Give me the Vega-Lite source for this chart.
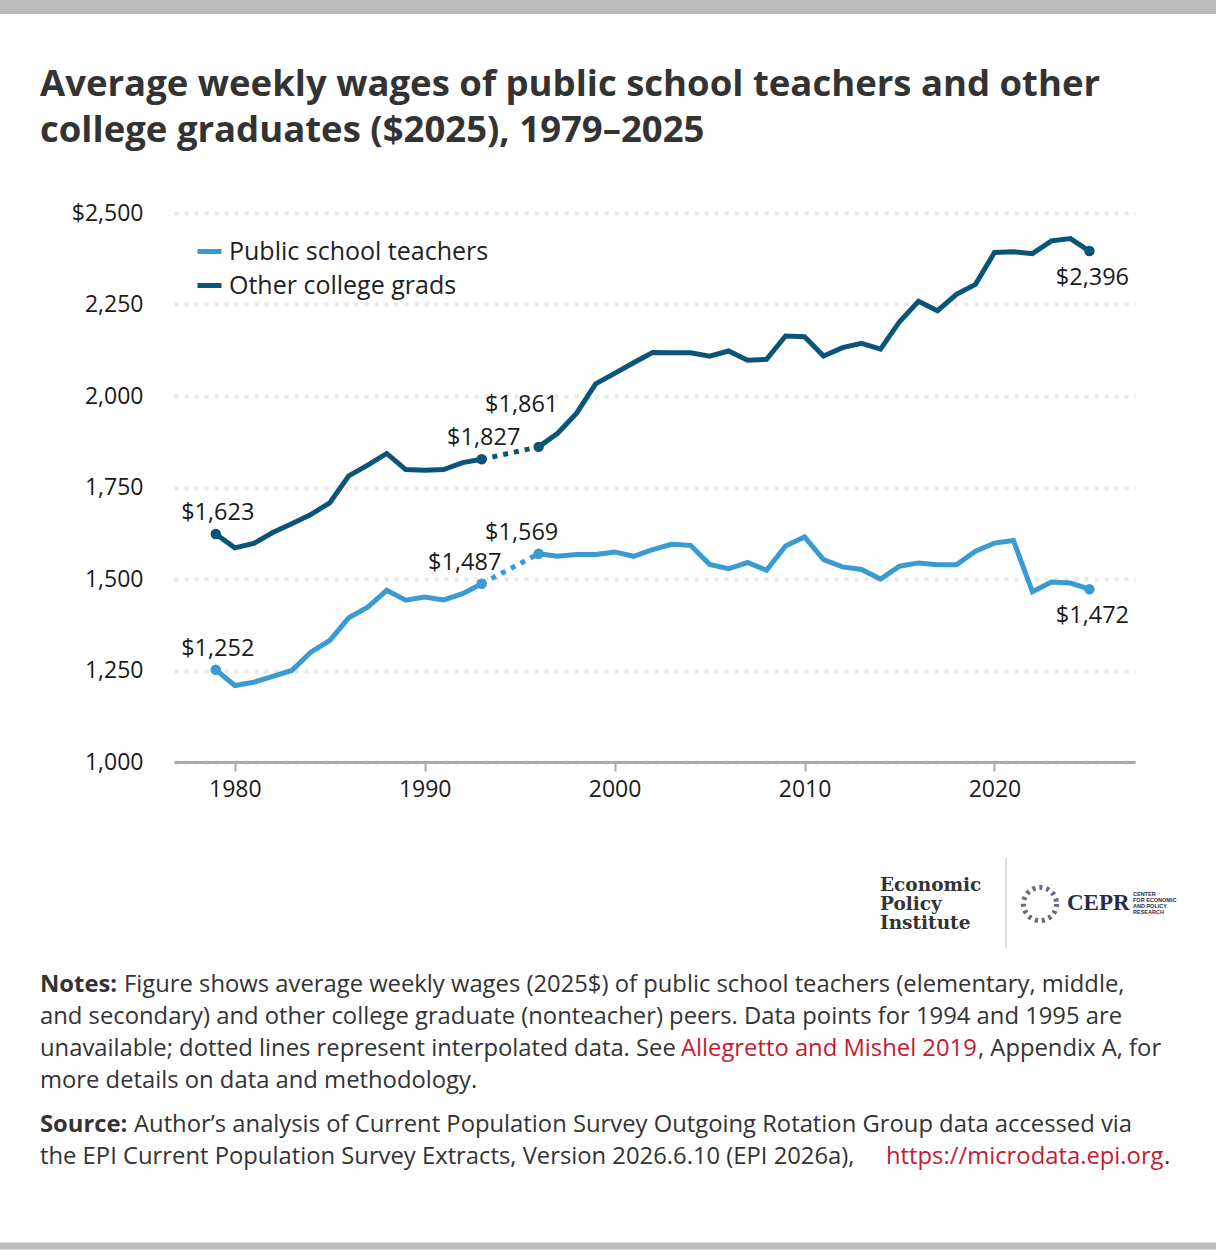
{
  "$schema": "https://vega.github.io/schema/vega-lite/v6.json",
  "width": 961,
  "height": 549,
  "autosize": {"type": "none"},
  "padding": {"left": 174, "top": 213, "right": 81, "bottom": 488},
  "background": "white",
  "config": {"view": {"stroke": null}, "font": "Open Sans"},
  "datasets": {
    "wages": [
      {"series": "Public school teachers", "year": 1979, "wage": 1252},
      {"series": "Public school teachers", "year": 1980, "wage": 1209},
      {"series": "Public school teachers", "year": 1981, "wage": 1218},
      {"series": "Public school teachers", "year": 1982, "wage": 1234},
      {"series": "Public school teachers", "year": 1983, "wage": 1250},
      {"series": "Public school teachers", "year": 1984, "wage": 1300},
      {"series": "Public school teachers", "year": 1985, "wage": 1332},
      {"series": "Public school teachers", "year": 1986, "wage": 1394},
      {"series": "Public school teachers", "year": 1987, "wage": 1423},
      {"series": "Public school teachers", "year": 1988, "wage": 1469},
      {"series": "Public school teachers", "year": 1989, "wage": 1442},
      {"series": "Public school teachers", "year": 1990, "wage": 1451},
      {"series": "Public school teachers", "year": 1991, "wage": 1443},
      {"series": "Public school teachers", "year": 1992, "wage": 1460},
      {"series": "Public school teachers", "year": 1993, "wage": 1487},
      {"series": "Public school teachers", "year": 1996, "wage": 1569},
      {"series": "Public school teachers", "year": 1997, "wage": 1562},
      {"series": "Public school teachers", "year": 1998, "wage": 1567},
      {"series": "Public school teachers", "year": 1999, "wage": 1567},
      {"series": "Public school teachers", "year": 2000, "wage": 1574},
      {"series": "Public school teachers", "year": 2001, "wage": 1562},
      {"series": "Public school teachers", "year": 2002, "wage": 1580},
      {"series": "Public school teachers", "year": 2003, "wage": 1595},
      {"series": "Public school teachers", "year": 2004, "wage": 1592},
      {"series": "Public school teachers", "year": 2005, "wage": 1540},
      {"series": "Public school teachers", "year": 2006, "wage": 1528},
      {"series": "Public school teachers", "year": 2007, "wage": 1545},
      {"series": "Public school teachers", "year": 2008, "wage": 1524},
      {"series": "Public school teachers", "year": 2009, "wage": 1590},
      {"series": "Public school teachers", "year": 2010, "wage": 1615},
      {"series": "Public school teachers", "year": 2011, "wage": 1553},
      {"series": "Public school teachers", "year": 2012, "wage": 1533},
      {"series": "Public school teachers", "year": 2013, "wage": 1526},
      {"series": "Public school teachers", "year": 2014, "wage": 1500},
      {"series": "Public school teachers", "year": 2015, "wage": 1535},
      {"series": "Public school teachers", "year": 2016, "wage": 1544},
      {"series": "Public school teachers", "year": 2017, "wage": 1539},
      {"series": "Public school teachers", "year": 2018, "wage": 1539},
      {"series": "Public school teachers", "year": 2019, "wage": 1576},
      {"series": "Public school teachers", "year": 2020, "wage": 1598},
      {"series": "Public school teachers", "year": 2021, "wage": 1605},
      {"series": "Public school teachers", "year": 2022, "wage": 1465},
      {"series": "Public school teachers", "year": 2023, "wage": 1492},
      {"series": "Public school teachers", "year": 2024, "wage": 1489},
      {"series": "Public school teachers", "year": 2025, "wage": 1472},
      {"series": "Other college grads", "year": 1979, "wage": 1623},
      {"series": "Other college grads", "year": 1980, "wage": 1585},
      {"series": "Other college grads", "year": 1981, "wage": 1597},
      {"series": "Other college grads", "year": 1982, "wage": 1627},
      {"series": "Other college grads", "year": 1983, "wage": 1651},
      {"series": "Other college grads", "year": 1984, "wage": 1676},
      {"series": "Other college grads", "year": 1985, "wage": 1708},
      {"series": "Other college grads", "year": 1986, "wage": 1782},
      {"series": "Other college grads", "year": 1987, "wage": 1811},
      {"series": "Other college grads", "year": 1988, "wage": 1843},
      {"series": "Other college grads", "year": 1989, "wage": 1799},
      {"series": "Other college grads", "year": 1990, "wage": 1797},
      {"series": "Other college grads", "year": 1991, "wage": 1799},
      {"series": "Other college grads", "year": 1992, "wage": 1818},
      {"series": "Other college grads", "year": 1993, "wage": 1827},
      {"series": "Other college grads", "year": 1996, "wage": 1861},
      {"series": "Other college grads", "year": 1997, "wage": 1898},
      {"series": "Other college grads", "year": 1998, "wage": 1953},
      {"series": "Other college grads", "year": 1999, "wage": 2033},
      {"series": "Other college grads", "year": 2000, "wage": 2062},
      {"series": "Other college grads", "year": 2001, "wage": 2091},
      {"series": "Other college grads", "year": 2002, "wage": 2119},
      {"series": "Other college grads", "year": 2003, "wage": 2118},
      {"series": "Other college grads", "year": 2004, "wage": 2118},
      {"series": "Other college grads", "year": 2005, "wage": 2109},
      {"series": "Other college grads", "year": 2006, "wage": 2123},
      {"series": "Other college grads", "year": 2007, "wage": 2098},
      {"series": "Other college grads", "year": 2008, "wage": 2100},
      {"series": "Other college grads", "year": 2009, "wage": 2164},
      {"series": "Other college grads", "year": 2010, "wage": 2162},
      {"series": "Other college grads", "year": 2011, "wage": 2109},
      {"series": "Other college grads", "year": 2012, "wage": 2132},
      {"series": "Other college grads", "year": 2013, "wage": 2144},
      {"series": "Other college grads", "year": 2014, "wage": 2128},
      {"series": "Other college grads", "year": 2015, "wage": 2203},
      {"series": "Other college grads", "year": 2016, "wage": 2259},
      {"series": "Other college grads", "year": 2017, "wage": 2233},
      {"series": "Other college grads", "year": 2018, "wage": 2278},
      {"series": "Other college grads", "year": 2019, "wage": 2305},
      {"series": "Other college grads", "year": 2020, "wage": 2392},
      {"series": "Other college grads", "year": 2021, "wage": 2394},
      {"series": "Other college grads", "year": 2022, "wage": 2389},
      {"series": "Other college grads", "year": 2023, "wage": 2424},
      {"series": "Other college grads", "year": 2024, "wage": 2430},
      {"series": "Other college grads", "year": 2025, "wage": 2396}
    ],
    "notes": [
      {"part": "title", "line": 0, "text": "Average weekly wages of public school teachers and other\ncollege graduates ($2025), 1979–2025"},
      {"part": "bold", "line": 1, "text": "Notes:"},
      {"part": "bold", "line": 5, "text": "Source:"},
      {"part": "after_notes", "line": 1, "text": "Figure shows average weekly wages (2025$) of public school teachers (elementary, middle,"},
      {"part": "plain", "line": 2, "text": "and secondary) and other college graduate (nonteacher) peers. Data points for 1994 and 1995 are"},
      {"part": "plain", "line": 3, "text": "unavailable; dotted lines represent interpolated data. See"},
      {"part": "plain", "line": 4, "text": "more details on data and methodology."},
      {"part": "after_source", "line": 5, "text": "Author’s analysis of Current Population Survey Outgoing Rotation Group data accessed via"},
      {"part": "plain", "line": 6, "text": "the EPI Current Population Survey Extracts, Version 2026.6.10 (EPI 2026a),"},
      {"part": "link3", "line": 3, "text": "Allegretto and Mishel 2019"},
      {"part": "tail3", "line": 3, "text": ", Appendix A, for"},
      {"part": "link6", "line": 6, "text": "https://microdata.epi.org"},
      {"part": "tail6", "line": 6, "text": "."},
      {"part": "epi", "line": 0, "text": "Economic\nPolicy\nInstitute"},
      {"part": "cepr", "line": 0, "text": "CEPR"},
      {"part": "cepr_small", "line": 0, "text": "CENTER\nFOR ECONOMIC\nAND POLICY\nRESEARCH"},
      {"part": "frame", "line": 0, "text": ""}
    ]
  },
  "layer": [
    {
      "data": {"name": "wages"},
      "encoding": {
        "x": {
          "field": "year",
          "type": "quantitative",
          "scale": {"domain": [1976.8, 2027.4], "nice": false, "zero": false},
          "axis": {
            "values": [1980, 1990, 2000, 2010, 2020],
            "format": "d",
            "title": null,
            "grid": false,
            "domainColor": "#aaaaaa",
            "domainWidth": 3,
            "tickColor": "#aaaaaa",
            "tickWidth": 2,
            "tickSize": 9,
            "labelFont": "Open Sans",
            "labelFontSize": 23,
            "labelPadding": 7,
            "labelColor": "#1a1a1a"
          }
        },
        "y": {
          "field": "wage",
          "type": "quantitative",
          "scale": {"domain": [1000, 2500], "nice": false, "zero": false},
          "axis": {
            "values": [1000, 1250, 1500, 1750, 2000, 2250, 2500],
            "labelExpr": "datum.value == 2500 ? '$2,500' : format(datum.value, ',')",
            "title": null,
            "domain": false,
            "ticks": false,
            "labelPadding": 31,
            "labelFont": "Open Sans",
            "labelFontSize": 23,
            "labelColor": "#1a1a1a",
            "grid": true,
            "gridDash": [4, 6],
            "gridWidth": 4,
            "gridColor": "#e8e8e8"
          }
        },
        "color": {
          "field": "series",
          "type": "nominal",
          "scale": {
            "domain": ["Public school teachers", "Other college grads"],
            "range": ["#3a9bd3", "#0b5479"]
          },
          "legend": {
            "title": null,
            "orient": "none",
            "legendX": 21,
            "legendY": 24,
            "direction": "vertical",
            "symbolType": "stroke",
            "symbolSize": 576,
            "symbolStrokeWidth": 5,
            "labelFont": "Open Sans",
            "labelFontSize": 25,
            "labelColor": "#222222",
            "labelLimit": 0,
            "labelOffset": 5,
            "rowPadding": 6,
            "padding": 0
          }
        }
      },
      "layer": [
        {
          "transform": [{"filter": "datum.year <= 1993"}],
          "mark": {"type": "line", "strokeWidth": 5}
        },
        {
          "transform": [{"filter": "datum.year >= 1996"}],
          "mark": {"type": "line", "strokeWidth": 5}
        },
        {
          "transform": [{"filter": "datum.year >= 1993 && datum.year <= 1996"}],
          "mark": {"type": "line", "strokeWidth": 5, "strokeDash": [5, 6]}
        },
        {
          "transform": [{"filter": {"field": "year", "oneOf": [1979, 1993, 1996, 2025]}}],
          "mark": {"type": "circle", "size": 110, "opacity": 1}
        },
        {
          "transform": [{"filter": "datum.year == 1979 || (datum.year == 1993 && datum.series == 'Other college grads')"}],
          "mark": {"type": "text", "font": "Open Sans", "fontSize": 23.5, "dx": 2, "dy": -21, "align": "center", "baseline": "middle"},
          "encoding": {"text": {"field": "wage", "type": "quantitative", "format": "$,.0f"}, "color": {"value": "#1a1a1a"}}
        },
        {
          "transform": [{"filter": "datum.series == 'Public school teachers' && (datum.year == 1993 || datum.year == 1996)"}],
          "mark": {"type": "text", "font": "Open Sans", "fontSize": 23.5, "dx": -17, "dy": -21, "align": "center", "baseline": "middle"},
          "encoding": {"text": {"field": "wage", "type": "quantitative", "format": "$,.0f"}, "color": {"value": "#1a1a1a"}}
        },
        {
          "transform": [{"filter": "datum.series == 'Other college grads' && datum.year == 1996"}],
          "mark": {"type": "text", "font": "Open Sans", "fontSize": 23.5, "dx": -17, "dy": -42, "align": "center", "baseline": "middle"},
          "encoding": {"text": {"field": "wage", "type": "quantitative", "format": "$,.0f"}, "color": {"value": "#1a1a1a"}}
        },
        {
          "transform": [{"filter": "datum.year == 2025"}],
          "mark": {"type": "text", "font": "Open Sans", "fontSize": 23.5, "dx": 3, "dy": 27, "align": "center", "baseline": "middle"},
          "encoding": {"text": {"field": "wage", "type": "quantitative", "format": "$,.0f"}, "color": {"value": "#1a1a1a"}}
        }
      ]
    },
    {
      "data": {"name": "notes"},
      "encoding": {
        "x": {"datum": 0, "type": "quantitative", "scale": {"domain": [0, 1], "range": [-134, 827]}, "axis": null},
        "y": {"field": "line", "type": "quantitative", "scale": {"domain": [1, 4, 5, 6], "range": [772, 868, 912, 944], "zero": false, "nice": false}, "axis": null},
        "text": {"field": "text", "type": "nominal"}
      },
      "layer": [
        {
          "transform": [{"filter": "datum.part == 'title'"}],
          "mark": {"type": "text", "font": "Open Sans", "fontSize": 36.5, "fontWeight": "bold", "color": "#333333", "align": "left", "baseline": "alphabetic", "lineBreak": "\n", "lineHeight": 46, "dy": -857}
        },
        {
          "transform": [{"filter": "datum.part == 'bold'"}],
          "mark": {"type": "text", "font": "Open Sans", "fontSize": 23.8, "fontWeight": "bold", "color": "#333333", "align": "left", "baseline": "middle"}
        },
        {
          "transform": [{"filter": "datum.part == 'plain'"}],
          "mark": {"type": "text", "font": "Open Sans", "fontSize": 23.8, "color": "#333333", "align": "left", "baseline": "middle"}
        },
        {
          "transform": [{"filter": "datum.part == 'after_notes'"}],
          "mark": {"type": "text", "font": "Open Sans", "fontSize": 23.8, "color": "#333333", "align": "left", "baseline": "middle", "dx": 84}
        },
        {
          "transform": [{"filter": "datum.part == 'after_source'"}],
          "mark": {"type": "text", "font": "Open Sans", "fontSize": 23.8, "color": "#333333", "align": "left", "baseline": "middle", "dx": 94}
        },
        {
          "transform": [{"filter": "datum.part == 'link3'"}],
          "mark": {"type": "text", "font": "Open Sans", "fontSize": 23.8, "color": "#c41a32", "align": "left", "baseline": "middle", "dx": 641}
        },
        {
          "transform": [{"filter": "datum.part == 'tail3'"}],
          "mark": {"type": "text", "font": "Open Sans", "fontSize": 23.8, "color": "#333333", "align": "left", "baseline": "middle", "dx": 938}
        },
        {
          "transform": [{"filter": "datum.part == 'link6'"}],
          "mark": {"type": "text", "font": "Open Sans", "fontSize": 23.8, "color": "#c41a32", "align": "left", "baseline": "middle", "dx": 846}
        },
        {
          "transform": [{"filter": "datum.part == 'tail6'"}],
          "mark": {"type": "text", "font": "Open Sans", "fontSize": 23.8, "color": "#333333", "align": "left", "baseline": "middle", "dx": 1124}
        },
        {
          "transform": [{"filter": "datum.part == 'epi'"}],
          "mark": {"type": "text", "font": "DejaVu Serif", "fontSize": 18.5, "fontWeight": "bold", "color": "#333333", "align": "left", "baseline": "top", "lineBreak": "\n", "lineHeight": 19, "dx": 840, "dy": -77}
        },
        {
          "transform": [{"filter": "datum.part == 'cepr'"}],
          "mark": {"type": "text", "font": "Liberation Serif", "fontSize": 23, "fontWeight": "bold", "color": "#262b4d", "align": "left", "baseline": "middle", "dx": 1027, "dy": -50}
        },
        {
          "transform": [{"filter": "datum.part == 'cepr_small'"}],
          "mark": {"type": "text", "font": "Liberation Sans", "fontSize": 5.5, "fontWeight": "bold", "color": "#262b4d", "align": "left", "baseline": "top", "lineBreak": "\n", "lineHeight": 6, "dx": 1093, "dy": -61}
        },
        {
          "transform": [{"filter": "datum.part == 'frame'"}],
          "mark": {"type": "point", "shape": "circle", "filled": false, "size": 1100, "strokeWidth": 5, "strokeDash": [3, 4], "color": "#262b4d", "xOffset": 1000, "yOffset": -49}
        },
        {
          "transform": [{"filter": "datum.part == 'frame'"}],
          "mark": {"type": "rule", "color": "#bbbbbb", "strokeWidth": 1, "xOffset": 966, "yOffset": -95, "y2Offset": -5},
          "encoding": {"y2": {"field": "line"}}
        },
        {
          "transform": [{"filter": "datum.part == 'frame'"}],
          "mark": {"type": "rule", "color": "#bbbbbb", "strokeWidth": 14, "xOffset": -40, "x2Offset": 1176, "yOffset": -946, "y2Offset": -946},
          "encoding": {"x2": {"datum": 0}, "y2": {"field": "line"}}
        },
        {
          "transform": [{"filter": "datum.part == 'frame'"}],
          "mark": {"type": "rule", "color": "#bbbbbb", "strokeWidth": 7, "xOffset": -40, "x2Offset": 1176, "yOffset": 293, "y2Offset": 293},
          "encoding": {"x2": {"datum": 0}, "y2": {"field": "line"}}
        }
      ]
    }
  ],
  "resolve": {"scale": {"x": "independent", "y": "independent"}}
}
